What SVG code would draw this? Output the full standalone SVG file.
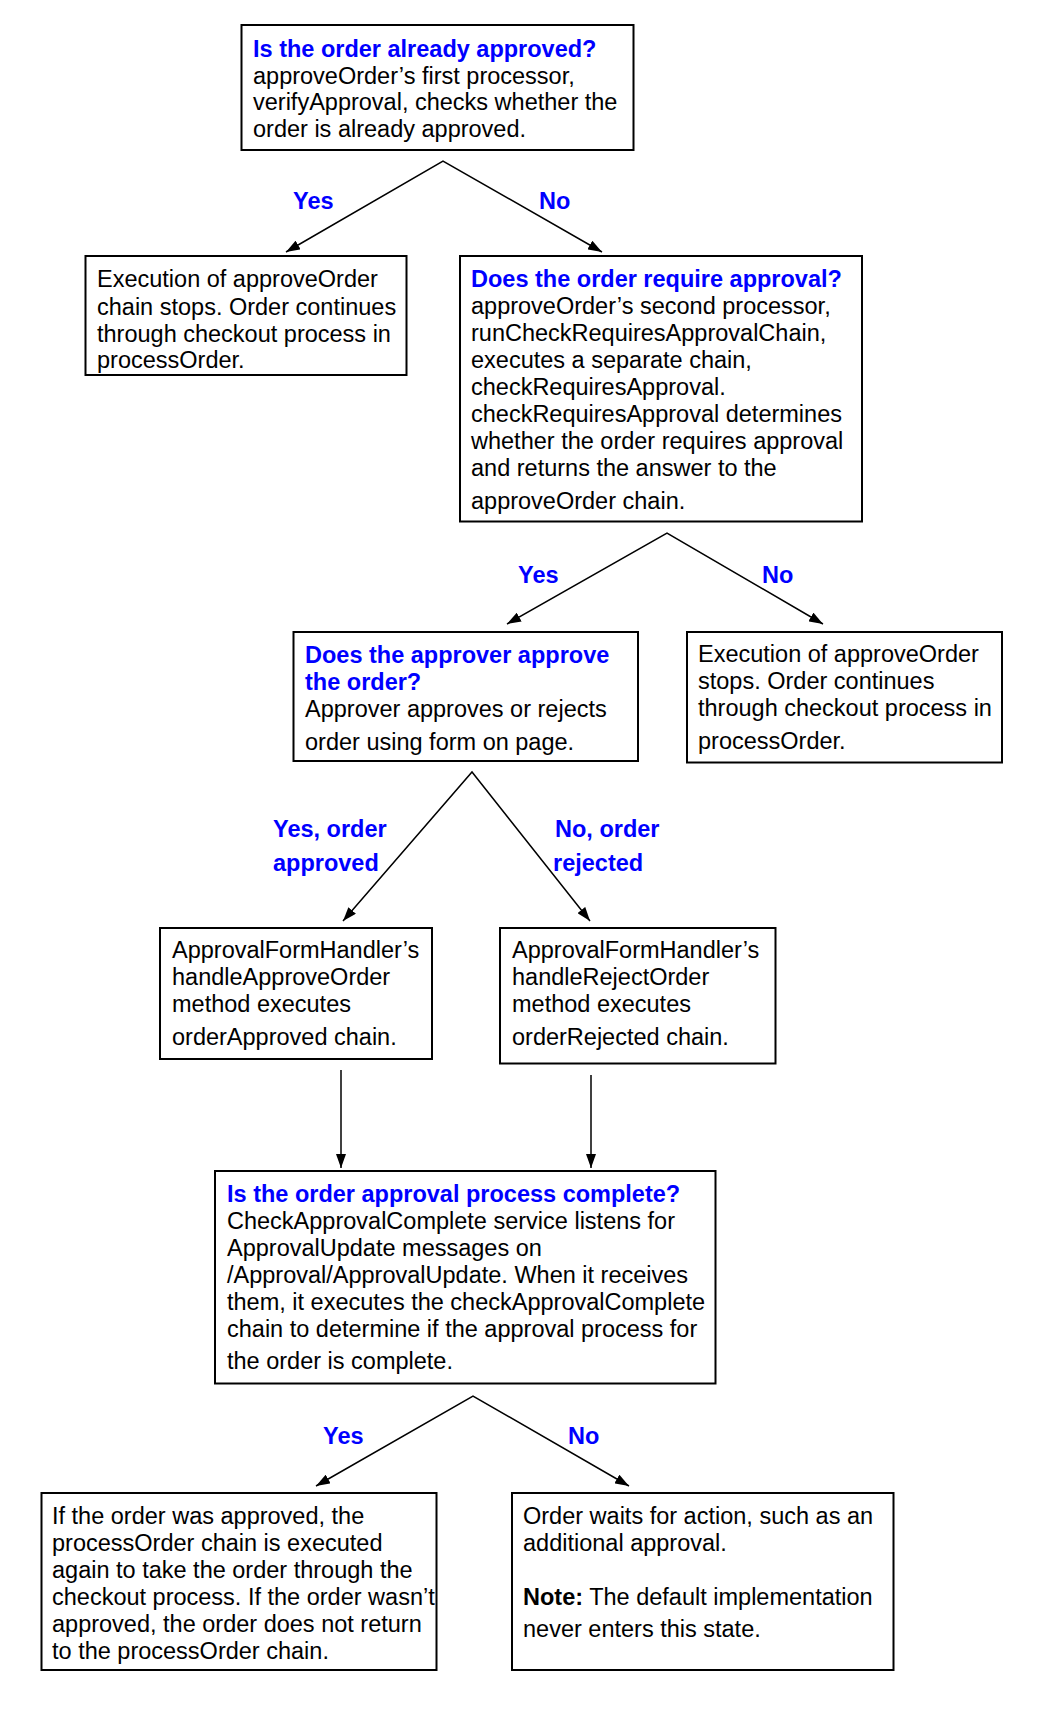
<svg xmlns="http://www.w3.org/2000/svg" width="1046" height="1723" viewBox="0 0 1046 1723">
<style>
text{font-family:"Liberation Sans",Arial,sans-serif;font-size:23.5px;fill:#000}
.t{font-weight:bold;fill:#0000FF}
.lbl{font-weight:bold;fill:#0000FF}
.box{fill:#fff;stroke:#000;stroke-width:2}
.c{fill:none;stroke:#000;stroke-width:1.5}
</style>
<defs>
<marker id="ah" viewBox="0 0 14 10" refX="14" refY="5" markerWidth="14" markerHeight="10" markerUnits="userSpaceOnUse" orient="auto">
<path d="M0,0 L14,5 L0,10 z" fill="#000"/>
</marker>
<marker id="as" viewBox="0 0 14 10" refX="0" refY="5" markerWidth="14" markerHeight="10" markerUnits="userSpaceOnUse" orient="auto">
<path d="M14,0 L0,5 L14,10 z" fill="#000"/>
</marker>
</defs>
<rect width="1046" height="1723" fill="#fff"/>
<g id="connectors">
<polyline class="c" points="286,252 443,161 602,252" marker-start="url(#as)" marker-end="url(#ah)"/>
<polyline class="c" points="507,624 667,533 823,624" marker-start="url(#as)" marker-end="url(#ah)"/>
<polyline class="c" points="343,921 472,772 590,921" marker-start="url(#as)" marker-end="url(#ah)"/>
<line class="c" x1="341" y1="1070" x2="341" y2="1168" marker-end="url(#ah)"/>
<line class="c" x1="591" y1="1075" x2="591" y2="1168" marker-end="url(#ah)"/>
<polyline class="c" points="316,1486 473,1396 629,1486" marker-start="url(#as)" marker-end="url(#ah)"/>
<text class="lbl" x="293" y="209">Yes</text>
<text class="lbl" x="539" y="209">No</text>
<text class="lbl" x="518" y="583">Yes</text>
<text class="lbl" x="762" y="583">No</text>
<text class="lbl" x="273" y="837">Yes, order</text>
<text class="lbl" x="273" y="871">approved</text>
<text class="lbl" x="555" y="837">No, order</text>
<text class="lbl" x="553" y="871">rejected</text>
<text class="lbl" x="323" y="1444">Yes</text>
<text class="lbl" x="568" y="1444">No</text>
</g>
<g id="n1">
<rect class="box" x="241.5" y="25" width="392" height="125"/>
<text x="253"><tspan class="t" x="253" y="57">Is the order already approved?</tspan><tspan x="253" y="83.5">approveOrder’s first processor,</tspan><tspan x="253" y="110">verifyApproval, checks whether the</tspan><tspan x="253" y="136.5">order is already approved.</tspan></text>
</g>
<g id="n2">
<rect class="box" x="85.5" y="256" width="321" height="119"/>
<text x="97"><tspan x="97" y="287">Execution of approveOrder</tspan><tspan x="97" y="315">chain stops. Order continues</tspan><tspan x="97" y="342">through checkout process in</tspan><tspan x="97" y="368">processOrder.</tspan></text>
</g>
<g id="n3">
<rect class="box" x="460" y="256" width="402" height="265.5"/>
<text x="471"><tspan class="t" x="471" y="287">Does the order require approval?</tspan><tspan x="471" y="314">approveOrder’s second processor,</tspan><tspan x="471" y="341">runCheckRequiresApprovalChain,</tspan><tspan x="471" y="368">executes a separate chain,</tspan><tspan x="471" y="395">checkRequiresApproval.</tspan><tspan x="471" y="422">checkRequiresApproval determines</tspan><tspan x="471" y="449">whether the order requires approval</tspan><tspan x="471" y="476">and returns the answer to the</tspan><tspan x="471" y="509">approveOrder chain.</tspan></text>
</g>
<g id="n4">
<rect class="box" x="293.5" y="632" width="344.5" height="129"/>
<text x="305"><tspan class="t" x="305" y="663">Does the approver approve</tspan><tspan class="t" x="305" y="690">the order?</tspan><tspan x="305" y="717">Approver approves or rejects</tspan><tspan x="305" y="750">order using form on page.</tspan></text>
</g>
<g id="n5">
<rect class="box" x="687" y="632" width="315" height="130.5"/>
<text x="698"><tspan x="698" y="662">Execution of approveOrder</tspan><tspan x="698" y="689">stops. Order continues</tspan><tspan x="698" y="716">through checkout process in</tspan><tspan x="698" y="749">processOrder.</tspan></text>
</g>
<g id="n6">
<rect class="box" x="160" y="928" width="272" height="131"/>
<text x="172"><tspan x="172" y="958">ApprovalFormHandler’s</tspan><tspan x="172" y="985">handleApproveOrder</tspan><tspan x="172" y="1012">method executes</tspan><tspan x="172" y="1045">orderApproved chain.</tspan></text>
</g>
<g id="n7">
<rect class="box" x="500" y="928" width="275.5" height="135.5"/>
<text x="512"><tspan x="512" y="958">ApprovalFormHandler’s</tspan><tspan x="512" y="985">handleRejectOrder</tspan><tspan x="512" y="1012">method executes</tspan><tspan x="512" y="1045">orderRejected chain.</tspan></text>
</g>
<g id="n8">
<rect class="box" x="215" y="1171" width="500.5" height="212.5"/>
<text x="227"><tspan class="t" x="227" y="1202">Is the order approval process complete?</tspan><tspan x="227" y="1229">CheckApprovalComplete service listens for</tspan><tspan x="227" y="1256">ApprovalUpdate messages on</tspan><tspan x="227" y="1283">/Approval/ApprovalUpdate. When it receives</tspan><tspan x="227" y="1310">them, it executes the checkApprovalComplete</tspan><tspan x="227" y="1337">chain to determine if the approval process for</tspan><tspan x="227" y="1369">the order is complete.</tspan></text>
</g>
<g id="n9">
<rect class="box" x="41.5" y="1493" width="395" height="177"/>
<text x="52"><tspan x="52" y="1524">If the order was approved, the</tspan><tspan x="52" y="1551">processOrder chain is executed</tspan><tspan x="52" y="1578">again to take the order through the</tspan><tspan x="52" y="1605">checkout process. If the order wasn’t</tspan><tspan x="52" y="1632">approved, the order does not return</tspan><tspan x="52" y="1659">to the processOrder chain.</tspan></text>
</g>
<g id="n10">
<rect class="box" x="512" y="1493" width="381.5" height="177"/>
<text x="523"><tspan x="523" y="1524">Order waits for action, such as an</tspan><tspan x="523" y="1551">additional approval.</tspan><tspan x="523" y="1605" font-weight="bold">Note:</tspan><tspan> The default implementation</tspan><tspan x="523" y="1637">never enters this state.</tspan></text>
</g>
</svg>
